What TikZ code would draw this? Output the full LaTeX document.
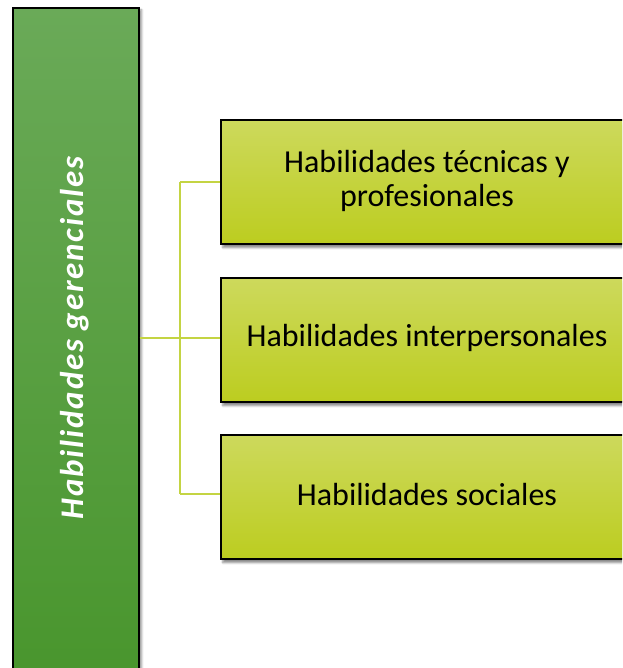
\documentclass[tikz,border=0pt]{standalone}
\usepackage{fontspec}
\setmainfont{Carlito}
\newfontfamily\barfont[LetterSpace=5.5]{Carlito}
\usetikzlibrary{shadows.blur}
\definecolor{bartop}{HTML}{6AAA58}
\definecolor{barbot}{HTML}{48952C}
\definecolor{boxtop}{HTML}{CDD95C}
\definecolor{boxbot}{HTML}{BCCD20}
\definecolor{linkc}{HTML}{C4D443}
\tikzset{
  barbox/.style={draw=black, line width=1.6pt, top color=bartop, bottom color=barbot,
    blur shadow={shadow xshift=3pt, shadow yshift=-2pt, shadow blur steps=6, shadow opacity=40}},
  itembox/.style={draw=black, line width=1.6pt, top color=boxtop, bottom color=boxbot,
    minimum width=420pt, minimum height=124pt, inner sep=0pt,
    blur shadow={shadow xshift=2pt, shadow yshift=-4pt, shadow blur steps=6, shadow opacity=45}},
  itemtext/.style={font=\fontsize{32}{34}\selectfont, text=black, align=center},
  link/.style={draw=linkc, line width=2.6pt}
}
\begin{document}
\begin{tikzpicture}[x=1pt, y=-1pt]
\useasboundingbox (0,0) rectangle (622,668);
\clip (0,0) rectangle (622,668);
% left bar
\node[barbox, minimum width=126pt, minimum height=690pt, inner sep=0pt, anchor=north west] (bar) at (12,7) {};
\node[rotate=90, text=white, font=\barfont\fontsize{33}{36}\selectfont\bfseries\itshape] (bartext) at (75,338) {Habilidades gerenciales};
% boxes
\node[itembox, anchor=north west] (b1) at (220,119) {};
\node[itembox, anchor=north west] (b2) at (220,277) {};
\node[itembox, anchor=north west] (b3) at (220,434) {};
\node[itemtext] (t1) at (427,181) {Habilidades técnicas y\\profesionales};
\node[itemtext] (t2) at (427,338) {Habilidades interpersonales};
\node[itemtext] (t3) at (427,495) {Habilidades sociales};
% connectors
\coordinate (hub) at (180,338);
\coordinate (top) at (180,182);
\coordinate (bot) at (180,494);
\draw[link] (bar.east |- hub) -- (hub);
\draw[link] (top) -- (bot);
\draw[link] (top) -- (b1.west |- top);
\draw[link] (hub) -- (b2.west |- hub);
\draw[link] (bot) -- (b3.west |- bot);
\end{tikzpicture}
\end{document}
